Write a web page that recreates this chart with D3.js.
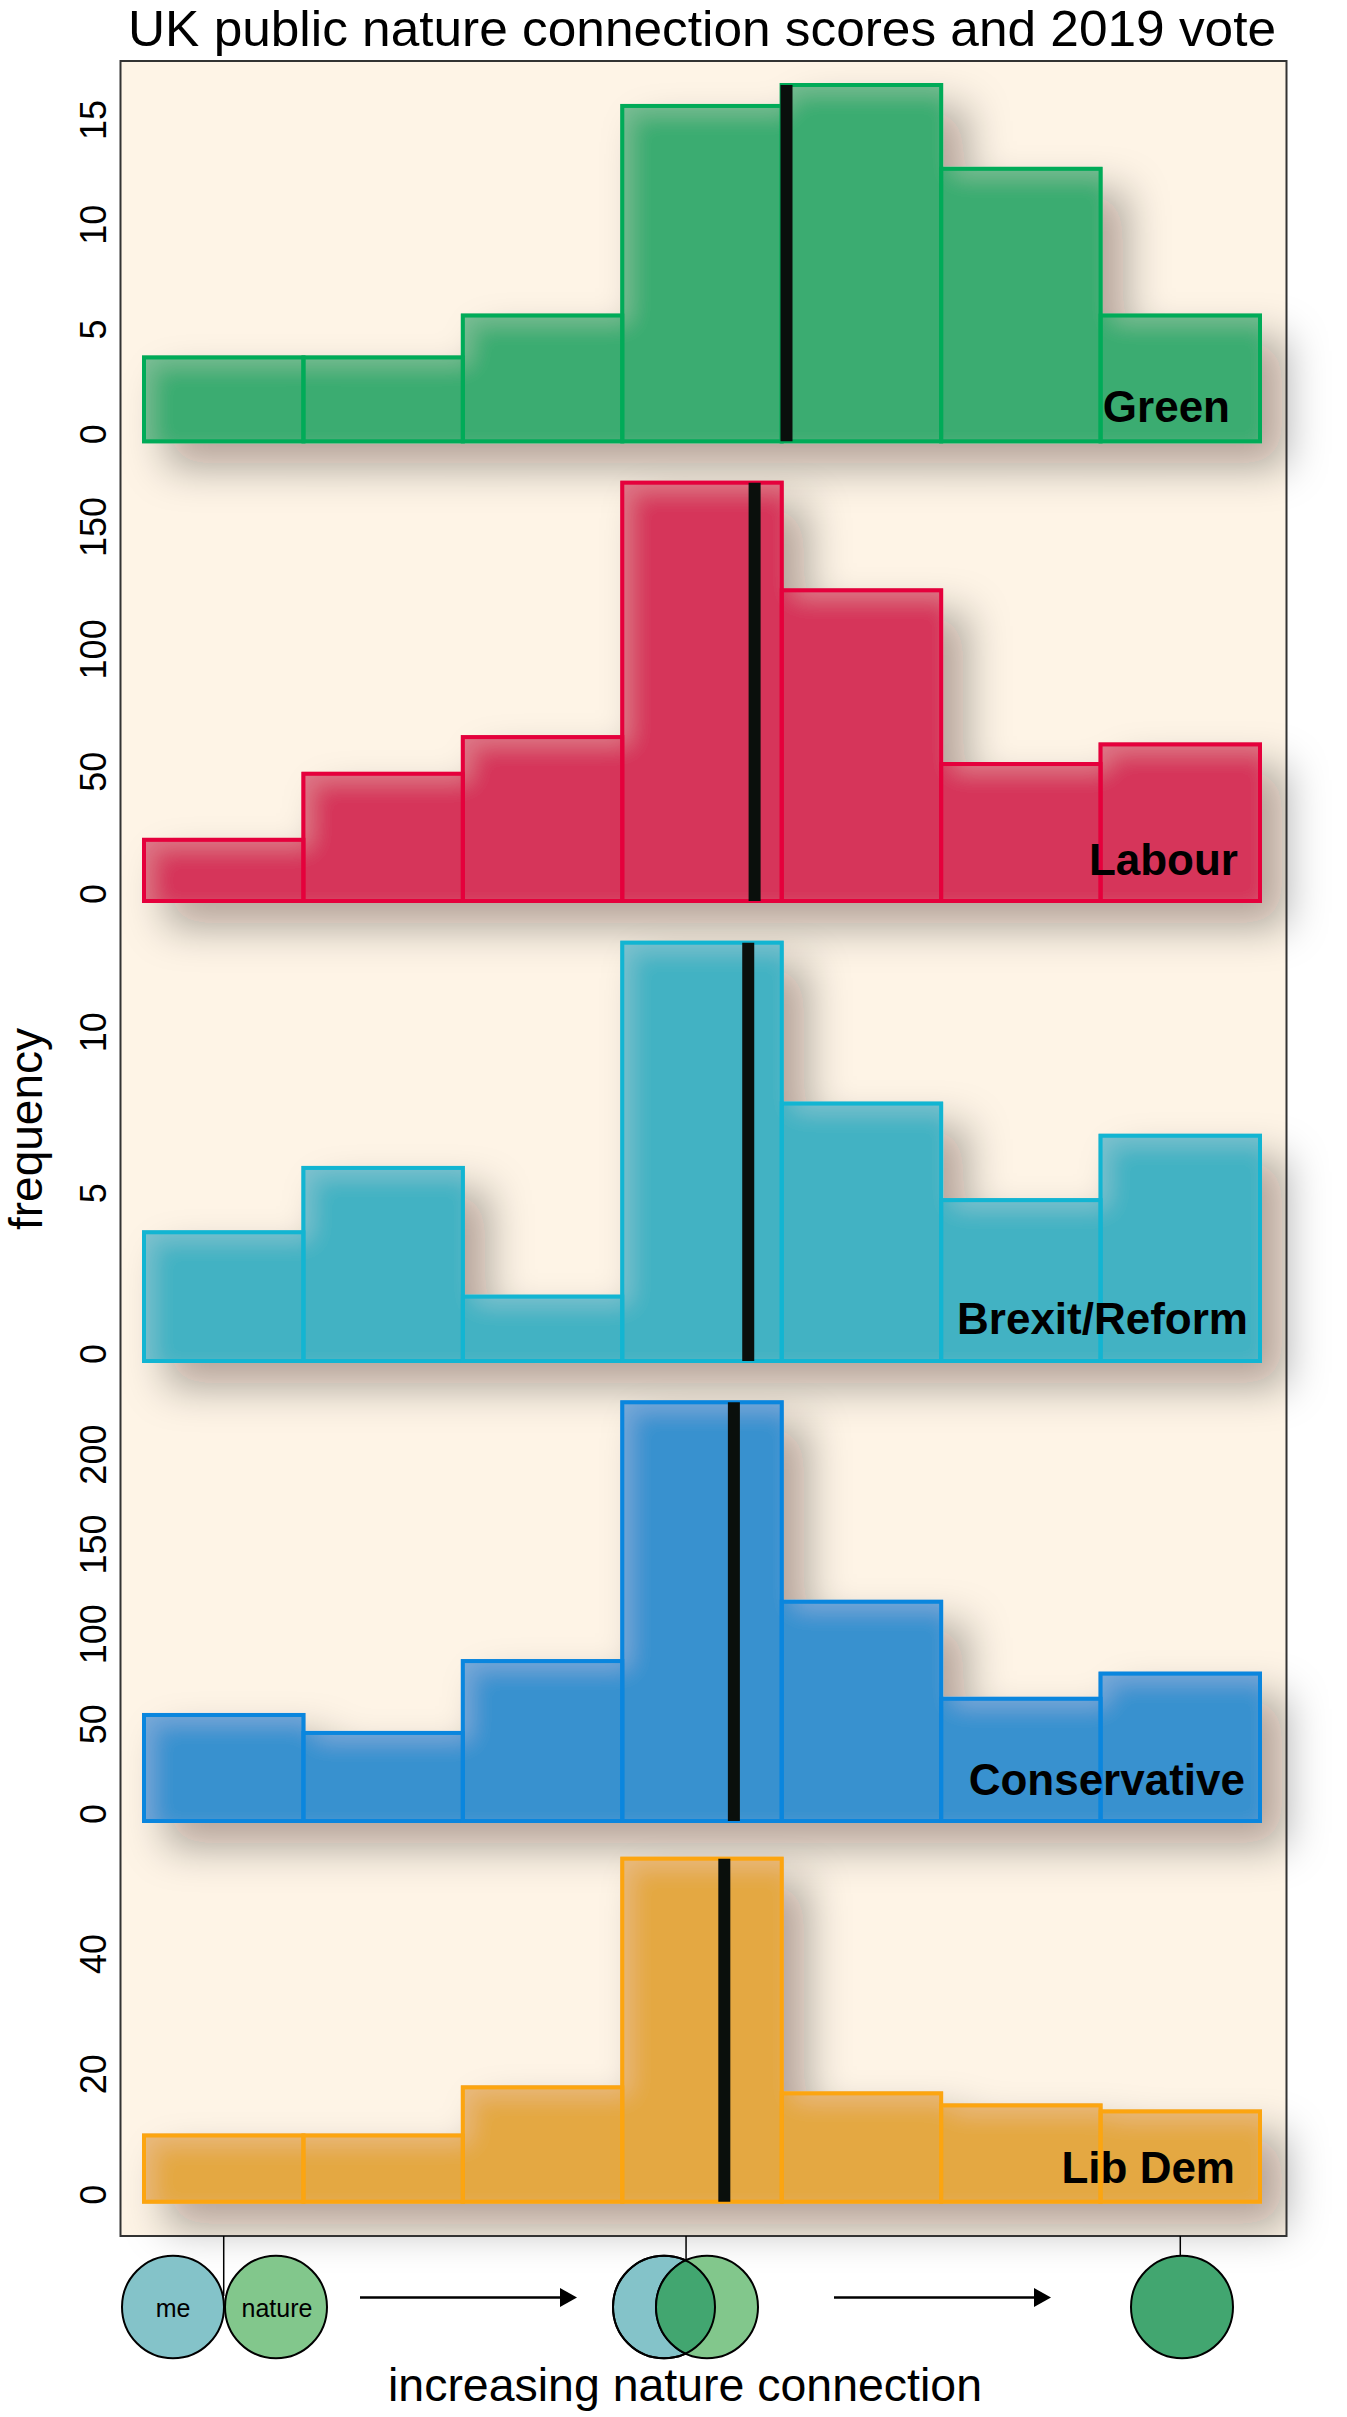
<!DOCTYPE html>
<html>
<head>
<meta charset="utf-8">
<style>
  html, body { margin: 0; padding: 0; background: #fff; }
  text { font-family: "Liberation Sans", Arial, sans-serif; fill: #000; }
</style>
<script src="https://cdn.jsdelivr.net/npm/d3@7"></script>
</head>
<body>
<div id="chart"></div>
<script>
// values
const parties = ['Green', 'Labour', 'Brexit/Reform', 'Conservative', 'Lib Dem'];
const greenCounts = [4, 4, 6, 16, 17, 13, 6];
const labourCounts = [25, 52, 67, 171, 127, 56, 64];
const brexitCounts = [4, 6, 2, 13, 8, 5, 7];
const conservativeCounts = [59, 49, 89, 233, 122, 68, 82];
const libDemCounts = [11, 11, 19, 57, 18, 16, 15];
const counts = [greenCounts, labourCounts, brexitCounts, conservativeCounts, libDemCounts];
const means = [4.53, 4.33, 4.29, 4.20, 4.14];
const yTicks = [[0, 5, 10, 15], [0, 50, 100, 150], [0, 5, 10], [0, 50, 100, 150, 200], [0, 20, 40]];
const binEdges = [0.5, 1.5, 2.5, 3.5, 4.5, 5.5, 6.5, 7.5];
const diagramTicks = [1, 3.9, 7];

// styling and layout, one entry per panel
const strokes = ['#00ab58', '#e5003c', '#12b5d2', '#0a86de', '#fca510'];
const fills = ['#3aac71', '#d6365a', '#42b2c3', '#3791cf', '#e4a842'];
const panelBase = [441.3, 901, 1361, 1821, 2201.7];
const panelTop = [85, 482.7, 942.7, 1402.3, 1858.7];
const labelRight = [1230, 1238, 1248, 1245, 1235];
const labelBaseline = [421.7, 875, 1334, 1795, 2182.7];

const width = 1347, height = 2417;
const frame = {left: 120.5, right: 1286.5, top: 61, bottom: 2236};

const svg = d3.select('#chart').append('svg')
    .attr('width', width)
    .attr('height', height)
    .style('display', 'block');

const defs = svg.append('defs');

// wide drop shadow plus a light inner edge on the top and left of the bars
const barEffect = defs.append('filter')
    .attr('id', 'bar-effect')
    .attr('filterUnits', 'userSpaceOnUse')
    .attr('x', 0).attr('y', 0).attr('width', width).attr('height', height);
barEffect.append('feGaussianBlur').attr('in', 'SourceAlpha').attr('stdDeviation', 21).attr('result', 'blurA');
barEffect.append('feOffset').attr('in', 'blurA').attr('dx', 24).attr('dy', 24).attr('result', 'offA');
barEffect.append('feFlood').attr('flood-color', '#1a1000').attr('flood-opacity', 0.33);
barEffect.append('feComposite').attr('in2', 'offA').attr('operator', 'in').attr('result', 'shadow');
barEffect.append('feGaussianBlur').attr('in', 'SourceAlpha').attr('stdDeviation', 12).attr('result', 'blurB');
barEffect.append('feOffset').attr('in', 'blurB').attr('dx', 10).attr('dy', 10).attr('result', 'offB');
barEffect.append('feComposite').attr('in', 'SourceAlpha').attr('in2', 'offB').attr('operator', 'out').attr('result', 'edge');
barEffect.append('feFlood').attr('flood-color', '#fff').attr('flood-opacity', 0.17);
barEffect.append('feComposite').attr('in2', 'edge').attr('operator', 'in').attr('result', 'light');
const barMerge = barEffect.append('feMerge');
barMerge.append('feMergeNode').attr('in', 'shadow');
barMerge.append('feMergeNode').attr('in', 'SourceGraphic');
barMerge.append('feMergeNode').attr('in', 'light');

// title
svg.append('text')
    .attr('x', 128)
    .attr('y', 45.8)
    .attr('textLength', 1148)
    .attr('lengthAdjust', 'spacingAndGlyphs')
    .style('font-size', '50.5px')
    .text('UK public nature connection scores and 2019 vote');

// plot frame
svg.append('rect')
    .attr('x', frame.left)
    .attr('y', frame.top)
    .attr('width', frame.right - frame.left)
    .attr('height', frame.bottom - frame.top)
    .attr('fill', '#fef4e6');

// x scale is shared by all the panels
const x = d3.scaleLinear().domain([0.5, 7.5]).range([144, 1260]);

parties.forEach((party, i) => {
    const values = counts[i];
    const y = d3.scaleLinear()
        .domain([0, d3.max(values)])
        .range([panelBase[i], panelTop[i]]);

    const bins = values.map((v, k) => ({value: v, x0: binEdges[k], x1: binEdges[k + 1]}));
    const panel = svg.append('g').attr('class', 'panel');

    // filled bars carry the shadow
    panel.append('g')
        .attr('filter', 'url(#bar-effect)')
        .selectAll('rect')
        .data(bins)
        .join('rect')
        .attr('x', d => x(d.x0))
        .attr('y', d => y(d.value))
        .attr('width', d => x(d.x1) - x(d.x0))
        .attr('height', d => y(0) - y(d.value))
        .attr('fill', fills[i])
        .attr('stroke', fills[i])
        .attr('stroke-width', 4);

    // outlines go on top
    panel.append('g')
        .selectAll('rect')
        .data(bins)
        .join('rect')
        .attr('x', d => x(d.x0))
        .attr('y', d => y(d.value))
        .attr('width', d => x(d.x1) - x(d.x0))
        .attr('height', d => y(0) - y(d.value))
        .attr('fill', 'none')
        .attr('stroke', strokes[i])
        .attr('stroke-width', 4);

    // mean line
    panel.append('line')
        .attr('x1', x(means[i]))
        .attr('x2', x(means[i]))
        .attr('y1', y(0))
        .attr('y2', y(d3.max(values)))
        .attr('stroke', '#0a0f0c')
        .attr('stroke-width', 12);

    // party name
    panel.append('text')
        .attr('x', labelRight[i])
        .attr('y', labelBaseline[i])
        .attr('text-anchor', 'end')
        .style('font-size', '44px')
        .style('font-weight', 'bold')
        .text(party);

    // y axis, rotated labels only
    const axis = panel.append('g')
        .attr('transform', 'translate(93,-7.5)')
        .call(d3.axisLeft(y).tickValues(yTicks[i]).tickSize(0).tickFormat(d3.format('d')));
    axis.select('.domain').remove();
    axis.selectAll('text')
        .attr('x', 0)
        .attr('dy', '0.36em')
        .attr('text-anchor', 'middle')
        .attr('transform', 'rotate(-90)')
        .style('font-family', '"Liberation Sans", Arial, sans-serif')
        .style('font-size', '36px');
});

// frame outline sits over the shadows
svg.append('rect')
    .attr('x', frame.left)
    .attr('y', frame.top)
    .attr('width', frame.right - frame.left)
    .attr('height', frame.bottom - frame.top)
    .attr('fill', 'none')
    .attr('stroke', '#333')
    .attr('stroke-width', 2);

// axis titles
svg.append('text')
    .attr('transform', 'translate(41.5,1129) rotate(-90)')
    .attr('text-anchor', 'middle')
    .attr('textLength', 202)
    .attr('lengthAdjust', 'spacingAndGlyphs')
    .style('font-size', '45.5px')
    .text('frequency');

svg.append('text')
    .attr('x', 685)
    .attr('y', 2400.7)
    .attr('text-anchor', 'middle')
    .attr('textLength', 594)
    .attr('lengthAdjust', 'spacingAndGlyphs')
    .style('font-size', '46px')
    .text('increasing nature connection');

// me / nature diagram under the plot
const circleY = 2307, circleRx = 51, circleRy = 51.3;
const blue = '#84c3c9', lightGreen = '#82c78c', darkGreen = '#42a670';
const tickEnds = [2296, 2262, 2256];

const diagram = svg.append('g').attr('class', 'diagram');

diagramTicks.forEach((d, i) => {
    diagram.append('line')
        .attr('x1', x(d)).attr('x2', x(d))
        .attr('y1', frame.bottom).attr('y2', tickEnds[i])
        .attr('stroke', '#000').attr('stroke-width', 1.5);
});

function addCircle(cx, fill) {
    return diagram.append('ellipse')
        .attr('cx', cx).attr('cy', circleY)
        .attr('rx', circleRx).attr('ry', circleRy)
        .attr('fill', fill)
        .attr('stroke', '#000')
        .attr('stroke-width', 2);
}

addCircle(173, blue);
addCircle(276, lightGreen);
addCircle(664, blue);
addCircle(707, lightGreen);
addCircle(1182, darkGreen);

// overlap of the middle pair
defs.append('clipPath').attr('id', 'lens')
    .append('ellipse')
    .attr('cx', 664).attr('cy', circleY)
    .attr('rx', circleRx).attr('ry', circleRy);
addCircle(707, darkGreen).attr('clip-path', 'url(#lens)');
diagram.append('ellipse')
    .attr('cx', 664).attr('cy', circleY)
    .attr('rx', circleRx).attr('ry', circleRy)
    .attr('fill', 'none')
    .attr('stroke', '#000')
    .attr('stroke-width', 2);

[['me', 173], ['nature', 277]].forEach(d => {
    diagram.append('text')
        .attr('x', d[1])
        .attr('y', 2317)
        .attr('text-anchor', 'middle')
        .style('font-size', '25px')
        .text(d[0]);
});

// arrows
[[360, 560, 577], [834, 1034, 1051]].forEach(a => {
    diagram.append('line')
        .attr('x1', a[0]).attr('x2', a[1])
        .attr('y1', 2297.5).attr('y2', 2297.5)
        .attr('stroke', '#000').attr('stroke-width', 2.5);
    diagram.append('path')
        .attr('d', d3.line()([[a[1], 2288], [a[2], 2297.5], [a[1], 2307]]) + 'Z')
        .attr('fill', '#000');
});
</script>
</body>
</html>
